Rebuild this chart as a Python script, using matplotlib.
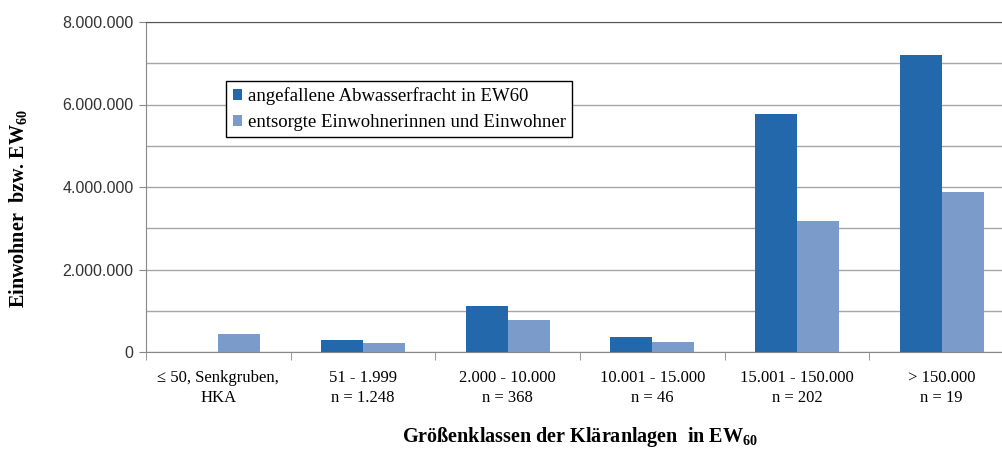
import matplotlib.pyplot as plt
import numpy as np
from matplotlib.ticker import FixedLocator, FuncFormatter

# Größenklassen der Kläranlagen
klassen = ["\u2264 50, Senkgruben,\nHKA", "51 - 1.999\nn = 1.248", "2.000 - 10.000\nn = 368",
           "10.001 - 15.000\nn = 46", "15.001 - 150.000\nn = 202", "> 150.000\nn = 19"]
abwasserfracht = [0, 290000, 1115000, 370000, 5780000, 7190000]
entsorgte_ew = [430000, 210000, 770000, 240000, 3180000, 3870000]

dunkel = "#2268ab"
hell = "#7b9bcb"
serif = ["Liberation Serif", "DejaVu Serif"]

plt.rcParams["mathtext.fontset"] = "custom"
plt.rcParams["mathtext.rm"] = "Liberation Serif:bold"
plt.rcParams["mathtext.it"] = "Liberation Serif:bold"
plt.rcParams["mathtext.bf"] = "Liberation Serif:bold"
plt.rcParams["mathtext.default"] = "rm"

fig = plt.figure(figsize=(10.02, 4.5), dpi=100)
# plot area runs a little past the right border, as in the original
ax = fig.add_axes([146/1002, 98/450, 868/1002, 330/450])

x = np.arange(len(klassen))
w = 0.29
ax.bar(x - w/2, abwasserfracht, w, color=dunkel, label="angefallene Abwasserfracht in EW60", zorder=3)
ax.bar(x + w/2, entsorgte_ew, w, color=hell, label="entsorgte Einwohnerinnen und Einwohner", zorder=3)

ax.set_xlim(-0.5, len(klassen) - 0.5)
ax.set_ylim(0, 8000000)

# y axis
ax.set_yticks(np.arange(0, 8000001, 2000000))
ax.yaxis.set_minor_locator(FixedLocator(np.arange(1000000, 8000000, 2000000)))
ax.yaxis.set_major_formatter(FuncFormatter(lambda v, p: f"{int(v):,}".replace(",", ".")))
ax.grid(axis="y", which="both", color="#a6a6a6", lw=1, zorder=0)
ax.tick_params(axis="y", which="major", length=5, color="#888888", labelcolor="#333333", pad=4)
ax.tick_params(axis="y", which="minor", length=0)
for lab in ax.get_yticklabels():
    lab.set_family(["Liberation Sans", "DejaVu Sans"])
    lab.set_fontsize(11.5)

# x axis
ax.set_xticks(x)
ax.set_xticklabels(klassen, family=serif, fontsize=12, linespacing=1.3)
ax.xaxis.set_minor_locator(FixedLocator(np.arange(-0.5, len(klassen), 1.0)))
ax.tick_params(axis="x", which="major", length=0, pad=13)
ax.tick_params(axis="x", which="minor", length=6, color="#888888")

for s in ["left", "bottom"]:
    ax.spines[s].set_color("#888888")
ax.spines["top"].set_color("#555555")
ax.spines["right"].set_visible(False)

fig.text(18/1002, 1 - 208/450, "Einwohner  bzw. EW$_{60}$", rotation=90, ha="center", va="center",
         family=serif, fontsize=14.5, fontweight="bold")
fig.text(580/1002, 1 - 437/450, "Größenklassen der Kläranlagen  in EW$_{60}$", ha="center", va="center",
         family=serif, fontsize=14.5, fontweight="bold")

ax.legend(loc="upper left", bbox_to_anchor=(226/1002, 1 - 81/450), bbox_transform=fig.transFigure,
          prop={"family": serif, "size": 13.5}, frameon=True, fancybox=False, edgecolor="black",
          framealpha=1, handlelength=0.5, handleheight=0.5, handletextpad=0.3,
          labelspacing=0.45, borderpad=0.35, borderaxespad=0)
ax.get_legend().get_frame().set_linewidth(1)

fig.savefig("out.png", dpi=100)
